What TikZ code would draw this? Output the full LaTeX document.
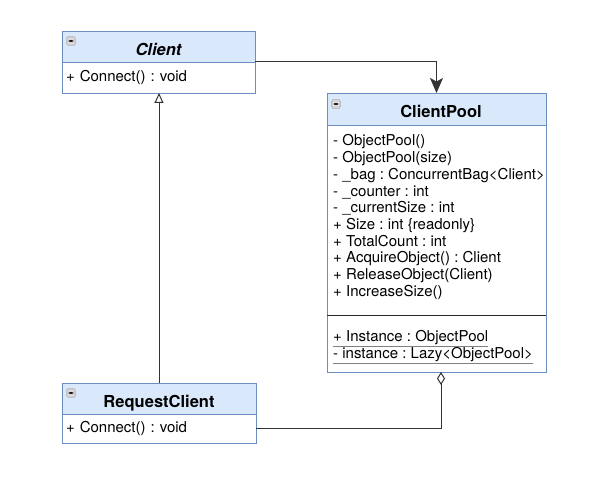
\documentclass[tikz,border=0pt]{standalone}
\usepackage{fontspec}
\setmainfont{TeX Gyre Heros}
\usetikzlibrary{arrows.meta,positioning}
\definecolor{umlline}{HTML}{6C8EBF}
\definecolor{umlfill}{HTML}{DAE8FC}
\definecolor{wire}{HTML}{333333}
\newcommand\staticmember[1]{\leavevmode\rlap{\color{gray}\underline{\phantom{#1}}}#1}
\tikzset{
  class head/.style={draw=umlline, fill=umlfill, line width=0.8pt, outer sep=0pt, inner sep=0pt,
    anchor=north west, minimum height=31pt, text height=18pt, text depth=0pt,
    font=\fontsize{16.5}{19}\selectfont\bfseries},
  class body/.style={draw=umlline, fill=white, line width=0.8pt, outer sep=0pt, inner xsep=4pt, inner ysep=0pt,
    align=left, font=\fontsize{15}{16.7}\selectfont\frenchspacing},
  member/.style={anchor=north west, align=left, inner sep=0pt, font=\fontsize{15}{16.7}\selectfont\frenchspacing},
  minus icon/.style={draw=gray!65, fill=gray!30, line width=0.6pt, rounded corners=1.2pt,
    minimum size=8.5pt, inner sep=0pt,
    path picture={\fill[gray!20!black] ([shift={(-2.6pt,-0.8pt)}]path picture bounding box.center)
      rectangle ([shift={(2.6pt,0.8pt)}]path picture bounding box.center);}},
  connector/.style={draw=wire, line width=1pt}
}
\begin{document}
\begin{tikzpicture}[x=1pt,y=-1pt]
  \path[fill=white, use as bounding box] (0,0) rectangle (600,502);

  % classes
  \node[class head, minimum width=193pt] (client head) at (62,31) {\itshape Client};
  \node[class body, text width=185pt, minimum height=31pt, below=0pt of client head.south] (client body)
    {+ Connect() : void};
  \node[minus icon] (client icon) at ([shift={(9,10)}]client head.north west) {};

  \node[class head, minimum width=219pt, minimum height=32pt] (pool head) at (327,93) {\hspace*{9pt}ClientPool};
  \node[class body, text width=211pt, minimum height=190pt, below=0pt of pool head] (pool attrs) {};
  \node[class body, text width=211pt, minimum height=57pt, below=0pt of pool attrs] (pool static) {};
  \draw[line width=0.8pt, black!85] (pool static.north west) -- (pool static.north east);
  \node[minus icon] (pool icon) at ([shift={(9,11)}]pool head.north west) {};
  \node[member] (pool attr list) at ([shift={(6,9.5)}]pool attrs.north west) {%
    - ObjectPool()\\
    - ObjectPool(size)\\
    - \_bag : ConcurrentBag<Client>\\
    - \_counter : int\\
    - \_currentSize : int\\
    + Size : int \{readonly\}\\
    + TotalCount : int\\
    + AcquireObject() : Client\\
    + ReleaseObject(Client)\\
    + IncreaseSize()};
  \node[member] (pool static list) at ([shift={(6,15)}]pool static.north west) {%
    \staticmember{+ Instance : ObjectPool}\\
    \staticmember{- instance : Lazy<ObjectPool>}};

  \node[class head, minimum width=194pt] (request head) at (62,383) {RequestClient};
  \node[class body, text width=186pt, minimum height=29pt, below=0pt of request head] (request body)
    {+ Connect() : void};
  \node[minus icon] (request icon) at ([shift={(9,10)}]request head.north west) {};

  % relations
  \draw[connector, -{Stealth[length=15pt, width=13pt, inset=3.5pt]}]
    (client head.south east) -| (pool head.north);
  \draw[connector, -{Triangle[open, length=10pt, width=9pt]}]
    (request head.north) -- (request head.north |- client body.south);
  \draw[connector, {Diamond[open, length=13pt, width=8pt]}-]
    ([xshift=4.5pt]pool static.south) |- (request body.east);
\end{tikzpicture}
\end{document}
